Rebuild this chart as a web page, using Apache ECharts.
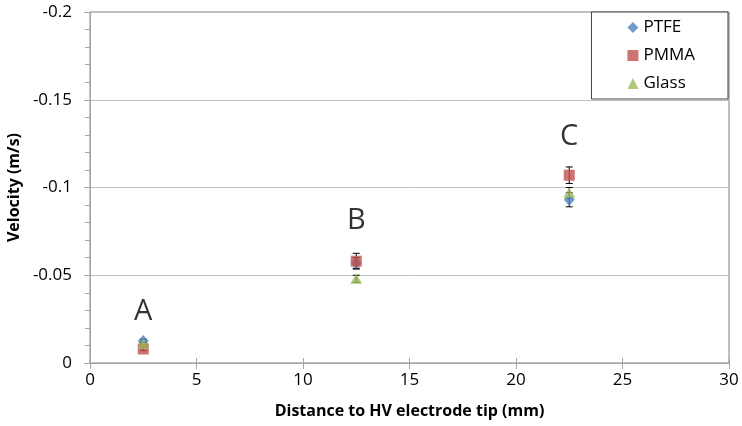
<!DOCTYPE html>
<html>
<head>
<meta charset="utf-8">
<script src="https://cdn.jsdelivr.net/npm/echarts@6/dist/echarts.min.js"></script>
<style>
  html, body { margin: 0; padding: 0; background: #fff; }
  #main { width: 742px; height: 426px; }
</style>
</head>
<body>
<div id="main"></div>
<script>
// distances (mm) and velocities (m/s)
var distances = [2.5, 12.5, 22.5];
var ptfe = [-0.0125, -0.057, -0.093];
var pmma = [-0.008, -0.058, -0.107];
var glass = [-0.011, -0.048, -0.097];
var ptfeErr = [0.001, 0.003, 0.004];
var pmmaErr = [0.001, 0.0045, 0.0047];
var glassErr = [0.001, 0.002, 0.003];
var groupNames = ['A', 'B', 'C'];
var groupLabelY = [-0.029, -0.081, -0.129];

var FONT = 'Open Sans';

function pairs(ys) {
    return distances.map(function (x, i) { return [x, ys[i]]; });
}
function errData(ys, errs) {
    return distances.map(function (x, i) { return [x, ys[i], errs[i]]; });
}

// vertical error bar with small caps
function errorBar(params, api) {
    var x = api.value(0), y = api.value(1), e = api.value(2);
    var hi = api.coord([x, y - e]);
    var lo = api.coord([x, y + e]);
    var cap = 3.5;
    var st = { stroke: '#000', lineWidth: 1 };
    return {
        type: 'group',
        children: [
            { type: 'line', shape: { x1: hi[0], y1: hi[1], x2: lo[0], y2: lo[1] }, style: st },
            { type: 'line', shape: { x1: hi[0] - cap, y1: hi[1], x2: hi[0] + cap, y2: hi[1] }, style: st },
            { type: 'line', shape: { x1: lo[0] - cap, y1: lo[1], x2: lo[0] + cap, y2: lo[1] }, style: st }
        ]
    };
}

var myChart = echarts.init(document.getElementById('main'));
var option = {
    animation: false,
    textStyle: { fontFamily: FONT },
    grid: {
        left: 90, right: 13, top: 12, bottom: 63,
        outerBoundsMode: 'none',
        show: true, borderColor: '#7f7f7f', borderWidth: 1
    },
    legend: {
        orient: 'vertical',
        right: 14, top: 12,
        data: ['PTFE', 'PMMA', 'Glass'],
        backgroundColor: '#fff',
        borderColor: '#404040', borderWidth: 1,
        padding: [7, 33, 7, 36],
        itemGap: 11, itemWidth: 11, itemHeight: 11,
        textStyle: { fontSize: 17, color: '#000', fontFamily: FONT }
    },
    xAxis: [{
        type: 'value', min: 0, max: 30, interval: 5,
        name: 'Distance to HV electrode tip (mm)',
        nameLocation: 'middle', nameGap: 40,
        nameTextStyle: { fontSize: 16, fontWeight: 'bold', color: '#000', fontFamily: FONT },
        axisLine: { onZero: false, lineStyle: { color: '#a6a6a6' } },
        axisTick: { show: true, length: 6, lineStyle: { color: '#a6a6a6' } },
        axisLabel: { fontSize: 17, color: '#000', margin: 9, fontFamily: FONT },
        splitLine: { show: false }
    }, {
        type: 'value', min: 0, max: 30, interval: 5, position: 'bottom',
        axisLine: { show: false },
        axisTick: { show: true, inside: true, length: 5, lineStyle: { color: '#a6a6a6' } },
        axisLabel: { show: false },
        splitLine: { show: false }
    }],
    yAxis: [{
        type: 'value', min: -0.2, max: 0, interval: 0.05, inverse: true,
        name: 'Velocity (m/s)',
        nameLocation: 'middle', nameGap: 68,
        nameTextStyle: { fontSize: 16, fontWeight: 'bold', color: '#000', fontFamily: FONT },
        axisLine: { show: true, onZero: false, lineStyle: { color: '#a6a6a6' } },
        axisTick: { show: true, length: 6, lineStyle: { color: '#a6a6a6' } },
        minorTick: { show: true, splitNumber: 5, length: 4, lineStyle: { color: '#a6a6a6' } },
        axisLabel: { fontSize: 17, color: '#000', margin: 18, fontFamily: FONT },
        splitLine: { show: true, lineStyle: { color: '#bfbfbf' } }
    }, {
        type: 'value', min: -0.2, max: 0, interval: 0.05, inverse: true, position: 'left',
        axisLine: { show: false },
        axisTick: { show: false },
        minorTick: { show: true, splitNumber: 5, length: 5, lineStyle: { color: '#a6a6a6' } },
        axisLabel: { show: false },
        splitLine: { show: false }
    }],
    series: [
        {
            name: 'PTFE', type: 'scatter', symbol: 'diamond', symbolSize: [11, 12],
            itemStyle: { color: '#4f81bd' }, data: pairs(ptfe), z: 3
        },
        {
            type: 'custom', renderItem: errorBar, data: errData(ptfe, ptfeErr), z: 2, silent: true
        },
        {
            name: 'PMMA', type: 'scatter', symbol: 'rect', symbolSize: 11,
            itemStyle: { color: '#c0504d' }, data: pairs(pmma), z: 4
        },
        {
            type: 'custom', renderItem: errorBar, data: errData(pmma, pmmaErr), z: 2, silent: true
        },
        {
            name: 'Glass', type: 'scatter', symbol: 'triangle', symbolSize: [12, 10],
            itemStyle: { color: '#9bbb59' }, data: pairs(glass), z: 5
        },
        {
            type: 'custom', renderItem: errorBar, data: errData(glass, glassErr), z: 2, silent: true
        },
        {
            type: 'scatter', symbolSize: 0, silent: true,
            data: distances.map(function (x, i) {
                return { value: [x, groupLabelY[i]], name: groupNames[i] };
            }),
            label: {
                show: true, position: 'inside', formatter: '{b}',
                fontSize: 29, color: '#000', fontFamily: FONT
            }
        }
    ]
};
myChart.setOption(option);
</script>
</body>
</html>
